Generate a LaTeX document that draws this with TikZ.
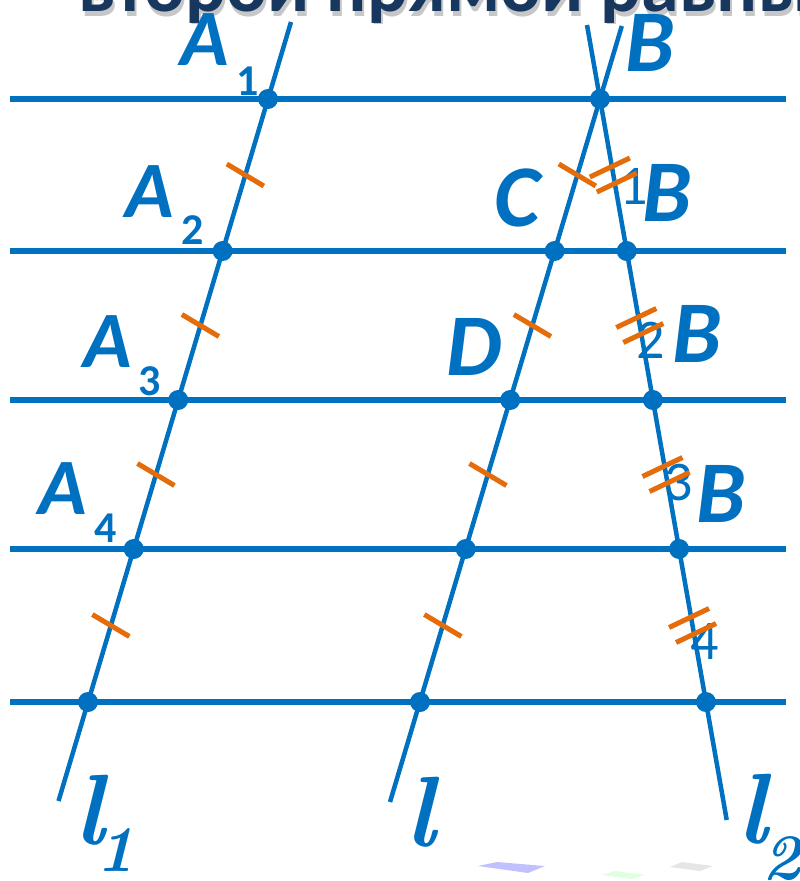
\documentclass[tikz,border=0pt]{standalone}
\usepackage{fontspec}
\newfontfamily\carl{Carlito}
\usetikzlibrary{calc}
\definecolor{lblue}{HTML}{0070C0}
\definecolor{torange}{HTML}{E46C0A}
\definecolor{navy}{HTML}{17375E}
\tikzset{
  hline/.style={draw=lblue, line width=5.5pt},
  sline/.style={draw=lblue, line width=4.5pt},
  tick/.style={draw=torange, line width=5pt},
  dot/.style={fill=lblue},
  lab/.style={text=lblue, inner sep=0pt, font=\carl\bfseries\itshape\fontsize{80}{80}\selectfont},
  labb/.style={text=lblue, inner sep=0pt, font=\carl\bfseries\itshape\fontsize{88}{88}\selectfont},
  suba/.style={text=lblue, inner sep=0pt, font=\carl\bfseries\fontsize{44}{44}\selectfont},
  subb/.style={text=lblue, inner sep=0pt, font=\carl\fontsize{56}{56}\selectfont},
  ell/.style={text=lblue, inner sep=0pt, font=\bfseries\itshape\fontsize{100}{100}\selectfont},
  ellsub/.style={text=lblue, inner sep=0pt, font=\bfseries\itshape\fontsize{65}{65}\selectfont},
  titletext/.style={inner sep=0pt, anchor=base west, font=\carl\bfseries\fontsize{76}{78}\selectfont}
}
\begin{document}
\begin{tikzpicture}[x=1pt,y=-1pt]
\useasboundingbox (0,0) rectangle (800,881);
% title (cut off at top)
\begin{scope}
\clip (0,0) rectangle (800,23);
\node[titletext, text=black, opacity=0.22] (tshadow) at (80,16) {второй прямой равные};
\node[titletext, text=navy] (title) at (78,11) {второй прямой равные};
\end{scope}
% faint decorations at bottom
\fill[blue!30!white, opacity=0.8] (478,866) -- (497,862) -- (545,866) -- (528,873) -- cycle;
\fill[green!12!white] (602,875) -- (615,871) -- (645,875) -- (632,879) -- cycle;
\fill[black!10!white] (670,867) -- (682,862) -- (713,866) -- (700,871) -- cycle;
% labels
\node[lab] (lA1) at (205,40) {A};  \node[suba] (sA1) at (248,81) {1};
\node[lab] (lA2) at (150,192) {A}; \node[suba] (sA2) at (193,230) {2};
\node[lab] (lA3) at (108,342) {A}; \node[suba] (sA3) at (150,381) {3};
\node[lab] (lA4) at (63,489) {A};  \node[suba] (sA4) at (106,528) {4};
\node[labb] (lB) at (650,43) {B};
\node[labb] (lC) at (517,198) {C};
\node[subb] (sB1) at (634,186) {1}; \node[labb] (lB1) at (667,193) {B};
\node[labb] (lD) at (474,347) {D};
\node[subb] (sB2) at (651,340) {2}; \node[labb] (lB2) at (697,334) {B};
\node[subb] (sB3) at (679,483) {3}; \node[labb] (lB3) at (721,494) {B};
\node[subb] (sB4) at (705,642) {4};
\node[ell] (ll1) at (89,810) {l}; \node[ellsub] (sl1) at (116,850) {1};
\node[ell] (ll) at (420,812) {l};
\node[ell] (ll2) at (752,809) {l}; \node[ellsub] (sl2) at (782,859) {2};
% points
\coordinate (A1) at (268,99);   \coordinate (A2) at (222.6,251);
\coordinate (A3) at (178.2,400); \coordinate (A4) at (133.7,549);
\coordinate (A5) at (88,702);
\coordinate (L1t) at (291,22);  \coordinate (L1b) at (58.5,801);
\coordinate (B) at (600,99);    \coordinate (C) at (554.6,251);
\coordinate (D) at (510.2,400); \coordinate (E) at (465.7,549);
\coordinate (F) at (420,702);
\coordinate (Lt) at (621.8,26); \coordinate (Lb) at (390,802);
\coordinate (B1) at (626.7,251); \coordinate (B2) at (652.9,400);
\coordinate (B3) at (679.1,549); \coordinate (B4) at (706,702);
\coordinate (L2t) at (587,25);  \coordinate (L2b) at (726.7,820);
% horizontal lines
\foreach \y [count=\i] in {99,251,400,549,702}{
  \coordinate (h\i w) at (10,\y); \coordinate (h\i e) at (786,\y);
  \draw[hline] (h\i w) -- (h\i e);
}
% slanted lines
\draw[sline] (L1t) -- (L1b);
\draw[sline] (Lt) -- (Lb);
\draw[sline] (L2t) -- (L2b);
% single ticks
\foreach \p/\q in {A1/A2,A2/A3,A3/A4,A4/A5,B/C,C/D,D/E,E/F}{
  \draw[tick] ($(\p)!0.5!(\q)$) +(-18.5,-11) -- +(18.5,11);
}
% double ticks
\foreach \p/\q in {B/B1,B1/B2,B2/B3,B3/B4}{
  \coordinate (m) at ($(\p)!0.5!(\q)$);
  \draw[tick] (m) ++(-3.5,-7.5) +(-20,9.5) -- +(20,-9.5);
  \draw[tick] (m) ++(3.5,7.5) +(-20,9.5) -- +(20,-9.5);
}
% dots
\foreach \p in {A1,A2,A3,A4,A5,B,C,D,E,F,B1,B2,B3,B4}{
  \fill[dot] (\p) circle (10);
}
\end{tikzpicture}
\end{document}
